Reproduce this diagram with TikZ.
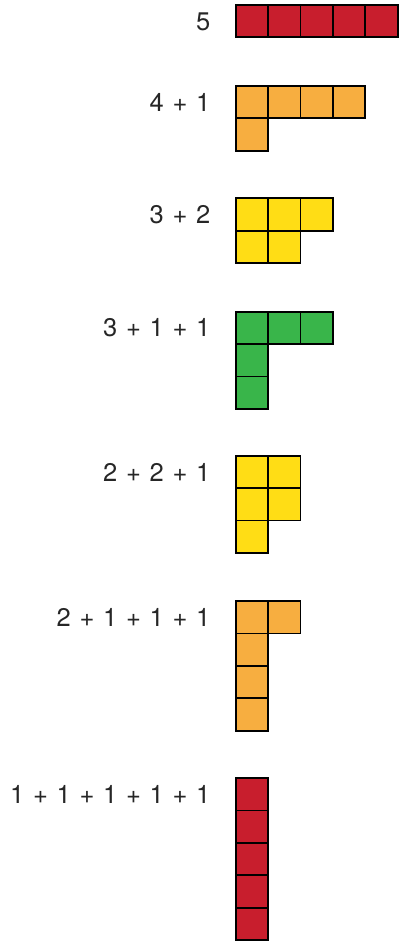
\documentclass[tikz,border=0pt]{standalone}
\usepackage{fontspec}
\setmainfont{TeX Gyre Heros}
\definecolor{pred}{RGB}{200,30,45}
\definecolor{porange}{RGB}{247,174,64}
\definecolor{pyellow}{RGB}{255,221,21}
\definecolor{pgreen}{RGB}{57,181,74}
\newcommand\pgap{\hspace{8.7pt}}
\newcommand\pplus{\pgap+\pgap}
\begin{document}
\begin{tikzpicture}[x=1pt,y=-1pt,
  cell/.style={draw=black,line width=1.8pt},
  lab/.style={anchor=east,inner sep=0pt,text=black!85,font=\fontsize{25.5}{25.5}\selectfont}]
\useasboundingbox (0,0) rectangle (399,941);
\def\s{32.4}
\def\xl{235.7}
\newcommand\pshape[3]{%
  \foreach \n [count=\r from 0] in {#3} {%
    \foreach \c in {1,...,\n} {%
      \filldraw[cell,fill=#2] ({\xl+(\c-1)*\s},{#1+\r*\s}) rectangle ++(\s,\s);
    }%
  }%
}
\pshape{5}{pred}{5}
\pshape{86}{porange}{4,1}
\pshape{198.3}{pyellow}{3,2}
\pshape{311.7}{pgreen}{3,1,1}
\pshape{455.7}{pyellow}{2,2,1}
\pshape{601}{porange}{2,1,1,1}
\pshape{778}{pred}{1,1,1,1,1}
\node[lab] (l1) at (210.5,21.4) {5};
\node[lab] (l2) at (210.5,102.4) {4\pplus1};
\node[lab] (l3) at (210.5,214.7) {3\pplus2};
\node[lab] (l4) at (210.5,328.1) {3\pplus1\pplus1};
\node[lab] (l5) at (210.5,472.1) {2\pplus2\pplus1};
\node[lab] (l6) at (210.5,617.4) {2\pplus1\pplus1\pplus1};
\node[lab] (l7) at (210.5,794.4) {1\pplus1\pplus1\pplus1\pplus1};
\end{tikzpicture}
\end{document}
